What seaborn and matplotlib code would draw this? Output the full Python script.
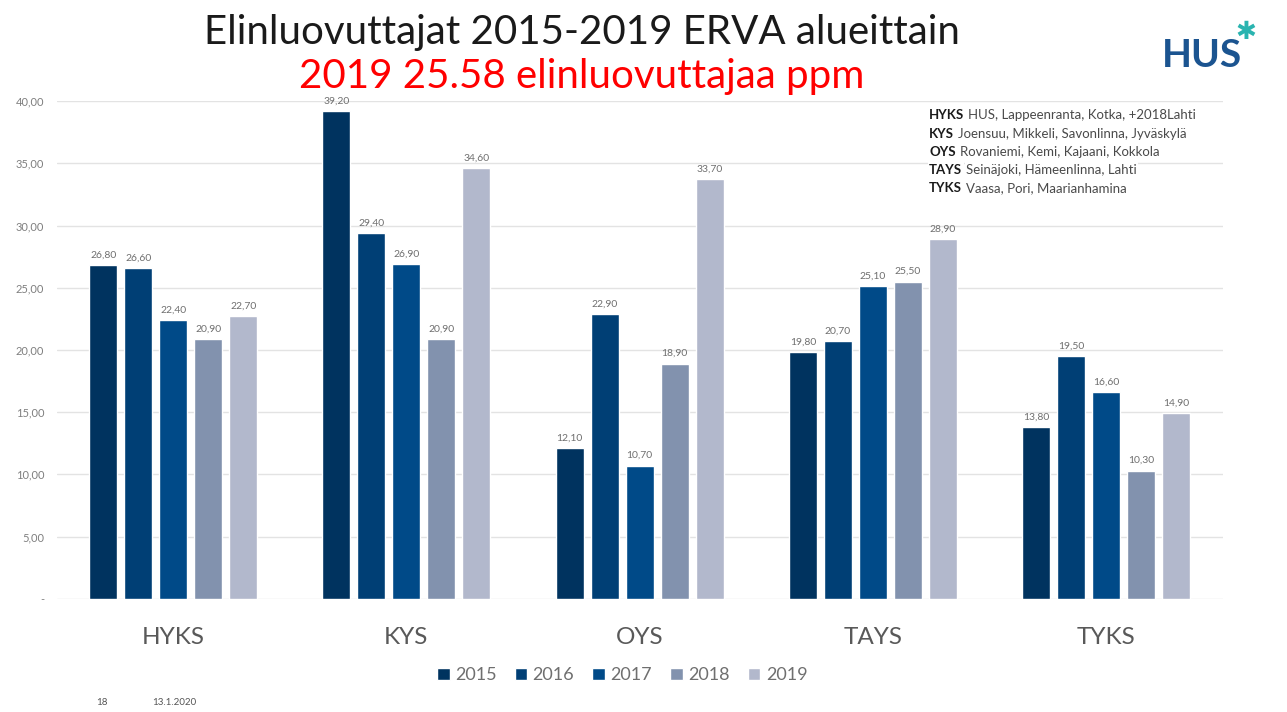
import pandas as pd
import matplotlib.pyplot as plt
import seaborn as sns

# data
regions = ['HYKS', 'KYS', 'OYS', 'TAYS', 'TYKS']
years = ['2015', '2016', '2017', '2018', '2019']
v2015 = [26.80, 39.20, 12.10, 19.80, 13.80]
v2016 = [26.60, 29.40, 22.90, 20.70, 19.50]
v2017 = [22.40, 26.90, 10.70, 25.10, 16.60]
v2018 = [20.90, 20.90, 18.90, 25.50, 10.30]
v2019 = [22.70, 34.60, 33.70, 28.90, 14.90]
y_ticks = [0, 5, 10, 15, 20, 25, 30, 35, 40]

info_bold = ['HYKS', 'KYS', 'OYS', 'TAYS', 'TYKS']
info_text = ['HUS, Lappeenranta, Kotka, +2018Lahti',
             'Joensuu, Mikkeli, Savonlinna, Jyväskylä',
             'Rovaniemi, Kemi, Kajaani, Kokkola',
             'Seinäjoki, Hämeenlinna, Lahti',
             'Vaasa, Pori, Maarianhamina']

colors = ['#00335f', '#003f75', '#004a88', '#8292ae', '#b2b8cc']

values = [v2015, v2016, v2017, v2018, v2019]
rows = []
for year, vals in zip(years, values):
    for reg, v in zip(regions, vals):
        rows.append({'region': reg, 'year': year, 'value': v})
df = pd.DataFrame(rows)

sns.set_style('white')
plt.rcParams['font.family'] = ['Lato', 'DejaVu Sans']

fig = plt.figure(figsize=(12.87, 7.12), dpi=100)
ax = fig.add_axes([0.044, 0.159, 0.906, 0.699])

sns.barplot(data=df, x='region', y='value', hue='year', palette=colors, saturation=1,
            width=0.75, gap=0.2, ax=ax, legend=True)

for cont in ax.containers:
    ax.bar_label(cont, labels=[f'{b.get_height():.2f}'.replace('.', ',') for b in cont],
                 fontsize=7.5, color='#6f6f6f', padding=4)

ax.set_ylim(0, 40)
ax.set_yticks(y_ticks)
ax.set_yticklabels(['-'] + [f'{t:.2f}'.replace('.', ',') for t in y_ticks[1:]],
                   fontsize=8, color='#7f7f7f')
ax.tick_params(axis='y', length=0, pad=9)
ax.tick_params(axis='x', length=0, pad=20, labelsize=17.5, labelcolor='#595959')
ax.set_xlabel('')
ax.set_ylabel('')
ax.yaxis.grid(True, color='#e3e3e3', linewidth=1)
ax.set_axisbelow(True)
sns.despine(ax=ax, left=True, bottom=True)

ax.legend(loc='upper center', bbox_to_anchor=(0.485, -0.105), ncol=5, frameon=False,
          fontsize=13, labelcolor='#6f6f6f', handlelength=0.7, handleheight=0.7,
          handletextpad=0.3, columnspacing=1.0)

fig.text(0.452, 0.955, 'Elinluovuttajat 2015-2019 ERVA alueittain', ha='center', va='center',
         fontsize=29, color='#1a1a1a')
fig.text(0.452, 0.893, '2019 25.58 elinluovuttajaa ppm', ha='center', va='center',
         fontsize=29, color='#ff0000')

# HUS logo
fig.text(0.934, 0.922, 'HUS', ha='center', va='center', fontsize=28, fontweight='bold',
         color='#1b5490')
fig.text(0.968, 0.955, '✱', ha='center', va='center', fontsize=18, color='#2ab4b0',
         family=['DejaVu Sans'])

# info box in the top right corner
fig.canvas.draw()
renderer = fig.canvas.get_renderer()
y0 = 0.838
for b, t in zip(info_bold, info_text):
    tb = fig.text(0.722, y0, b, fontsize=9.5, fontweight='bold', color='#1a1a1a', va='center',
                  bbox=dict(facecolor='white', edgecolor='none', pad=1))
    ext = tb.get_window_extent(renderer)
    x1 = ext.x1 / fig.bbox.width
    fig.text(x1 + 0.003, y0, t, fontsize=9.5, color='#4a4a4a', va='center',
             bbox=dict(facecolor='white', edgecolor='none', pad=1))
    y0 -= 0.0255

fig.text(0.075, 0.01, '18', fontsize=7, color='#555555')
fig.text(0.118, 0.01, '13.1.2020', fontsize=7, color='#555555')

fig.savefig('out.png', dpi=100)
